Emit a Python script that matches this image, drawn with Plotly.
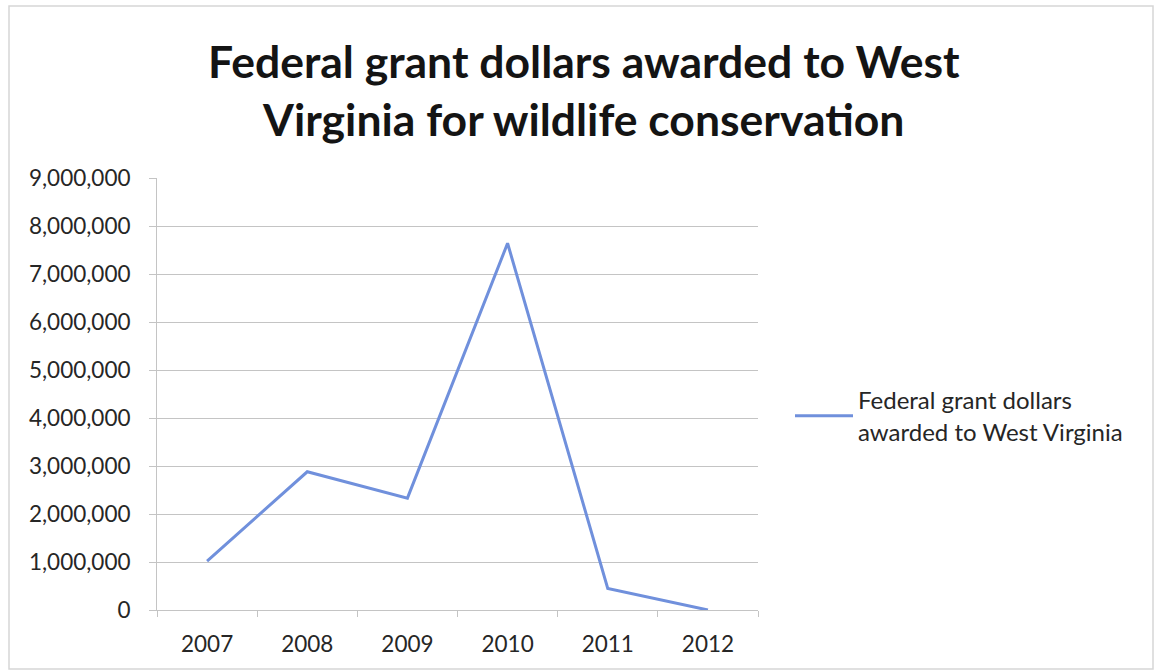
import plotly.graph_objects as go

# Federal wildlife conservation grants to West Virginia, by year
years = ["2007", "2008", "2009", "2010", "2011", "2012"]
grant_dollars = [1020000, 2880000, 2330000, 7640000, 450000, 0]
series_name = "Federal grant dollars<br>awarded to West Virginia"
chart_title = "Federal grant dollars awarded to West<br>Virginia for wildlife conservation"

W, H = 1156, 672
ML, MR, MT, MB = 157, 398, 178, 62
pw, ph = W - ML - MR, H - MT - MB

def px_x(p):
    return (p - ML) / pw

def px_y(p):
    return (H - MB - p) / ph

font_family = "Lato, Carlito, Calibri, sans-serif"
text_color = "#262626"
grid_color = "#c4c4c4"

fig = go.Figure()
fig.add_trace(go.Scatter(
    x=years, y=grant_dollars, mode="lines", name=series_name,
    line=dict(color="#7090dc", width=3),
    showlegend=True,
))

fig.update_layout(
    width=W, height=H,
    margin=dict(l=ML, r=MR, t=MT, b=MB),
    paper_bgcolor="white", plot_bgcolor="white",
    font=dict(family=font_family, color=text_color, size=22),
    title=dict(
        text=chart_title, x=0.505, xanchor="center",
        yref="container", y=1 - 78 / H, yanchor="middle",
        font=dict(family=font_family, size=44.5, color="#141414", weight="bold"),
    ),
    showlegend=True,
    legend=dict(
        x=px_x(790), xanchor="left", y=px_y(416), yanchor="middle",
        bgcolor="rgba(0,0,0,0)", font=dict(size=24, color=text_color),
        itemwidth=58, tracegroupgap=0,
    ),
    xaxis=dict(
        type="category", range=[-0.5, 5.5],
        showline=True, linecolor=grid_color, linewidth=1,
        ticks="outside", tickson="boundaries", ticklen=6, tickcolor=grid_color,
        showgrid=False, ticklabelstandoff=14,
        tickfont=dict(size=22.5, color=text_color),
    ),
    yaxis=dict(
        range=[0, 9000000], dtick=1000000, tickformat=",d",
        showline=True, linecolor=grid_color, linewidth=1,
        ticks="outside", ticklen=7, tickcolor=grid_color,
        showgrid=True, gridcolor=grid_color, gridwidth=1,
        zeroline=False, ticklabelstandoff=14,
        tickfont=dict(size=22.5, color=text_color),
    ),
    shapes=[dict(
        type="rect", xref="paper", yref="paper", layer="below",
        x0=px_x(9), x1=px_x(1153), y0=px_y(669), y1=px_y(6),
        line=dict(color="#d6d6d6", width=1.5), fillcolor="rgba(0,0,0,0)",
    )],
)

fig.write_html("out.html")
